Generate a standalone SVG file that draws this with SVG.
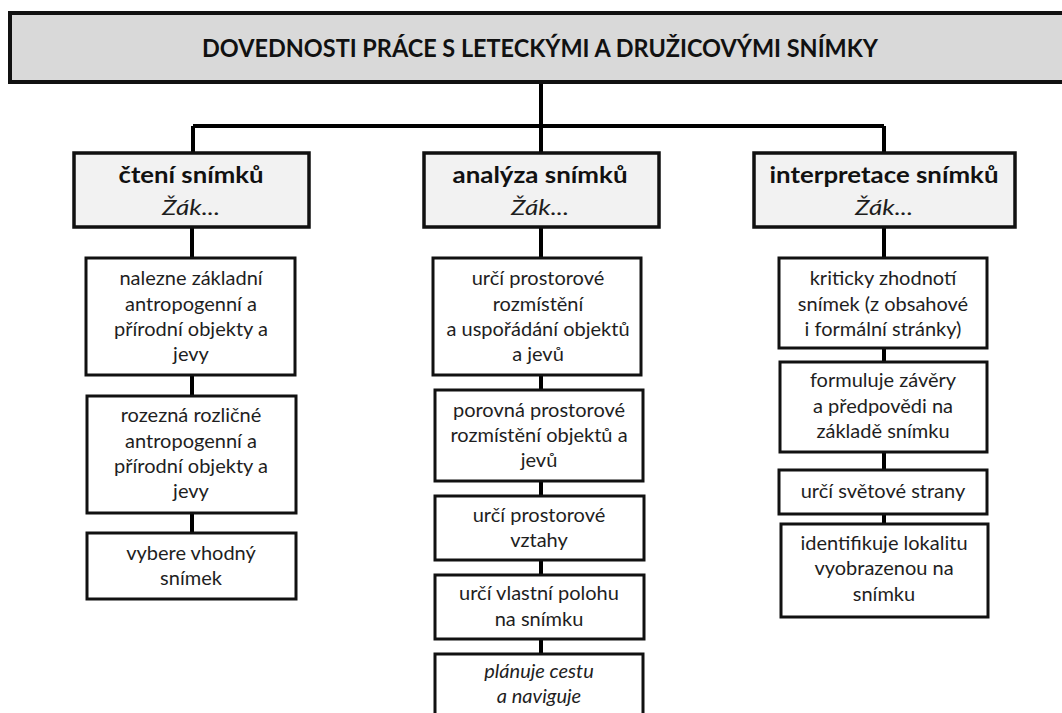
<svg xmlns="http://www.w3.org/2000/svg" width="1062" height="713" viewBox="0 0 1062 713">
<style>
.title{fill:#d9d9d9;stroke:#111;stroke-width:4}
.hdr{fill:#f2f2f2;stroke:#111;stroke-width:3.5}
.box{fill:#fff;stroke:#111;stroke-width:3}
.con{stroke:#000;stroke-width:4;fill:none}
text{font-family:Lato,"Open Sans","Noto Sans",sans-serif;fill:#1e1e1e;text-anchor:middle}
.tt{font-size:25px;font-weight:700;fill:#111}
.h1{font-size:22px;font-weight:700;fill:#111}
.h2{font-size:22px;font-style:italic}
.b{font-size:20px}
.bi{font-size:20px;font-style:italic}
</style>
<rect width="1062" height="713" fill="#fff"/>
<g id="connectors">
<path class="con" d="M541 82V126M193 126H884M193 126V153M541 126V153M884 126V153"/>
<path class="con" d="M192 227V533"/>
<path class="con" d="M541 227V654"/>
<path class="con" d="M884 227V524"/>
</g>
<g id="title">
<rect class="title" x="10" y="13" width="1070" height="69"/>
<text class="tt" x="540" y="57" textLength="676" lengthAdjust="spacingAndGlyphs">DOVEDNOSTI PRÁCE S LETECKÝMI A DRUŽICOVÝMI SNÍMKY</text>
</g>
<g id="h-cteni">
<rect class="hdr" x="74" y="153" width="235" height="74"/>
<text class="h1" x="191" y="183" textLength="145" lengthAdjust="spacingAndGlyphs">čtení snímků</text>
<text class="h2" x="191" y="215" textLength="58" lengthAdjust="spacingAndGlyphs">Žák...</text>
</g>
<g id="h-analyza">
<rect class="hdr" x="424" y="153" width="235" height="74"/>
<text class="h1" x="540" y="183" textLength="175" lengthAdjust="spacingAndGlyphs">analýza snímků</text>
<text class="h2" x="540" y="215" textLength="58" lengthAdjust="spacingAndGlyphs">Žák...</text>
</g>
<g id="h-interpretace">
<rect class="hdr" x="754" y="153" width="261" height="74"/>
<text class="h1" x="884" y="183" textLength="229" lengthAdjust="spacingAndGlyphs">interpretace snímků</text>
<text class="h2" x="884" y="215" textLength="58" lengthAdjust="spacingAndGlyphs">Žák...</text>
</g>
<g id="c1-b1">
<rect class="box" x="86" y="258" width="209" height="117"/>
<text class="b" x="191" y="285">nalezne základní</text>
<text class="b" x="191" y="311">antropogenní a</text>
<text class="b" x="191" y="336">přírodní objekty a</text>
<text class="b" x="191" y="361">jevy</text>
</g>
<g id="c1-b2">
<rect class="box" x="87" y="396" width="209" height="117"/>
<text class="b" x="191" y="422">rozezná rozličné</text>
<text class="b" x="191" y="448">antropogenní a</text>
<text class="b" x="191" y="473">přírodní objekty a</text>
<text class="b" x="191" y="498">jevy</text>
</g>
<g id="c1-b3">
<rect class="box" x="87" y="533" width="209" height="66"/>
<text class="b" x="191" y="560">vybere vhodný</text>
<text class="b" x="191" y="585">snímek</text>
</g>
<g id="c2-b1">
<rect class="box" x="433" y="258" width="208" height="117"/>
<text class="b" x="538" y="285">určí prostorové</text>
<text class="b" x="538" y="311">rozmístění</text>
<text class="b" x="538" y="336">a uspořádání objektů</text>
<text class="b" x="538" y="361">a jevů</text>
</g>
<g id="c2-b2">
<rect class="box" x="435" y="390" width="208" height="91"/>
<text class="b" x="539" y="417">porovná prostorové</text>
<text class="b" x="539" y="442">rozmístění objektů a</text>
<text class="b" x="539" y="467">jevů</text>
</g>
<g id="c2-b3">
<rect class="box" x="435" y="496" width="209" height="64"/>
<text class="b" x="539" y="522">určí prostorové</text>
<text class="b" x="539" y="547">vztahy</text>
</g>
<g id="c2-b4">
<rect class="box" x="435" y="575" width="209" height="64"/>
<text class="b" x="539" y="600">určí vlastní polohu</text>
<text class="b" x="539" y="626">na snímku</text>
</g>
<g id="c2-b5">
<rect class="box" x="435" y="654" width="208" height="70"/>
<text class="bi" x="539" y="678">plánuje cestu</text>
<text class="bi" x="539" y="703">a naviguje</text>
</g>
<g id="c3-b1">
<rect class="box" x="779" y="258" width="208" height="90"/>
<text class="b" x="883" y="285">kriticky zhodnotí</text>
<text class="b" x="883" y="311">snímek (z obsahové</text>
<text class="b" x="883" y="336">i formální stránky)</text>
</g>
<g id="c3-b2">
<rect class="box" x="780" y="362" width="207" height="90"/>
<text class="b" x="883" y="387">formuluje závěry</text>
<text class="b" x="883" y="413">a předpovědi na</text>
<text class="b" x="883" y="438">základě snímku</text>
</g>
<g id="c3-b3">
<rect class="box" x="779" y="470" width="208" height="44"/>
<text class="b" x="883" y="498">určí světové strany</text>
</g>
<g id="c3-b4">
<rect class="box" x="781" y="524" width="207" height="93"/>
<text class="b" x="884" y="550">identifikuje lokalitu</text>
<text class="b" x="884" y="575">vyobrazenou na</text>
<text class="b" x="884" y="601">snímku</text>
</g>
</svg>
